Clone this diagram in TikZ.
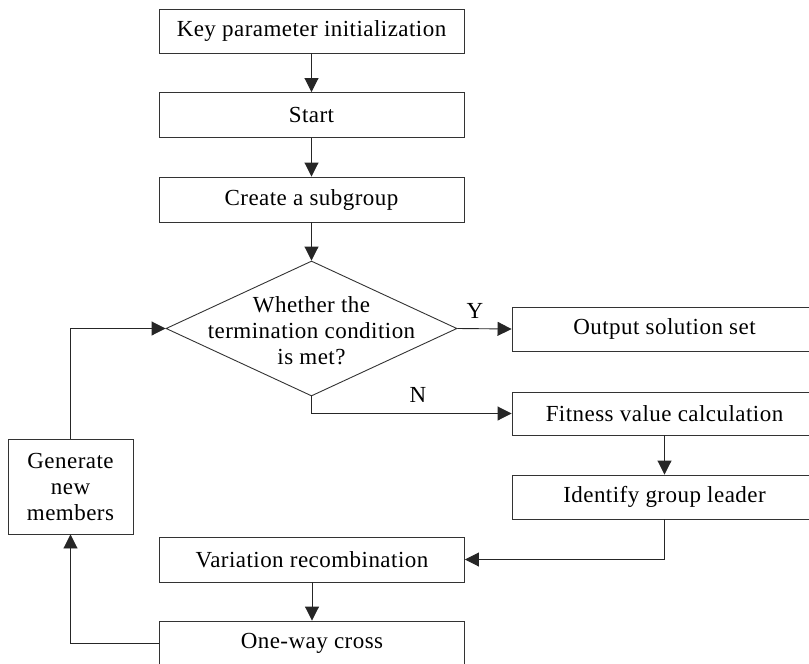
\documentclass[tikz,border=0pt]{standalone}
\usepackage{fontspec}
\setmainfont[LetterSpace=2]{Liberation Serif}
\usetikzlibrary{shapes.geometric,arrows.meta}
\begin{document}
\begin{tikzpicture}[x=1pt,y=-1pt,
  every node/.style={font=\fontsize{23}{26}\selectfont, inner sep=0pt},
  box/.style={draw=black!80, line width=0.9pt, rectangle, minimum width=305pt, minimum height=45pt, align=center},
  decision/.style={draw=black!80, line width=0.9pt, diamond, minimum width=291pt, minimum height=135pt},
  flow/.style={draw=black!85, line width=0.9pt, -{Triangle[length=14pt,width=14pt]}},
  tag/.style={font=\fontsize{23}{26}\selectfont}
]
\useasboundingbox (0,0) rectangle (809,664);
\clip (0,0) rectangle (809,664);

% main column
\node[box, minimum height=44pt] (init) at (311.5,31) {Key parameter initialization};
\node[box] (start) at (311.5,115) {Start};
\node[box] (sub) at (311.5,199.5) {Create a subgroup};
\node[decision] (cond) at (311.5,328.5) {};
\node[align=center] (condtext) at (311.5,331) {Whether the\\termination condition\\is met?};

% right column
\node[box, minimum height=44pt] (out) at (664.5,329) {Output solution set};
\node[box, minimum height=43pt] (fit) at (664.5,413.5) {Fitness value calculation};
\node[box, minimum height=44pt] (lead) at (664.5,497) {Identify group leader};

% lower part
\node[box] (var) at (312,559.5) {Variation recombination};
\node[box] (cross) at (312,643.5) {One-way cross};
\node[box, minimum width=125pt, minimum height=95pt] (gen) at (70.5,486.5) {Generate\\new\\members};

% connectors
\draw[flow] (init) -- (start);
\draw[flow] (start) -- (sub);
\draw[flow] (sub) -- (cond.north);
\draw[flow] (cond.east) -- (out.west);
\node[tag] (ylab) at (475,311) {Y};
\draw[flow] (cond.south) |- (fit.west);
\node[tag] (nlab) at (418,395) {N};
\draw[flow] (fit) -- (lead);
\draw[flow] (lead.south) |- (var.east);
\draw[flow] (var) -- (cross);
\draw[flow] (cross.west) -| (gen.south);
\draw[flow] (gen.north) |- (cond.west);
\end{tikzpicture}
\end{document}
